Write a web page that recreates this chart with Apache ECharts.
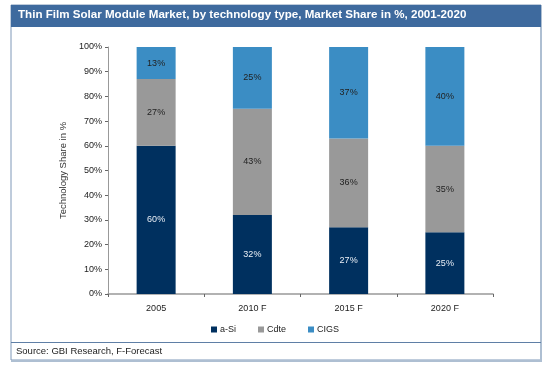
<!DOCTYPE html>
<html><head><meta charset="utf-8">
<script src="https://cdn.jsdelivr.net/npm/echarts@6/dist/echarts.min.js"></script>
<style>html,body{margin:0;padding:0;background:#fff}#c{width:550px;height:369px}</style>
</head><body><div id="c"></div>
<script>
const categories = ['2005', '2010 F', '2015 F', '2020 F'];
const aSi = [60, 32, 27, 25];
const cdte = [27, 43, 36, 35];
const cigs = [13, 25, 37, 40];
const yTicks = [0, 10, 20, 30, 40, 50, 60, 70, 80, 90, 100];

const chart = echarts.init(document.getElementById('c'), null, {renderer: 'canvas'});
const font = 'Arial, "Liberation Sans", sans-serif';
function lbl(color) {
  return {show: true, position: 'inside', formatter: p => p.value + '%', color: color, fontSize: 9, fontFamily: font};
}
chart.setOption({
  animation: false,
  backgroundColor: '#fff',
  textStyle: {fontFamily: font},
  graphic: [
    {type: 'rect', shape: {x: 11, y: 5, width: 530, height: 355}, style: {fill: 'none', stroke: '#7f98b8', lineWidth: 1}, z: 0},
    {type: 'line', shape: {x1: 541, y1: 5, x2: 541, y2: 361}, style: {stroke: '#aebfd2', lineWidth: 2}},
    {type: 'line', shape: {x1: 11, y1: 361, x2: 542, y2: 361}, style: {stroke: '#aebfd2', lineWidth: 2}},
    {type: 'rect', shape: {x: 11, y: 5, width: 530, height: 22}, style: {fill: '#3e6a9e'}},
    {type: 'line', shape: {x1: 11, y1: 342.5, x2: 541, y2: 342.5}, style: {stroke: '#5f7fa6', lineWidth: 1}},
    {type: 'text', left: 18, top: 9, style: {text: 'Thin Film Solar Module Market, by technology type, Market Share in %, 2001-2020', fill: '#fff', font: 'bold 11.6px ' + font}},
    {type: 'text', left: 16, top: 346, style: {text: 'Source: GBI Research, F-Forecast', fill: '#222', font: '9.5px ' + font}}
  ],
  grid: {left: 108, right: 57, top: 47, bottom: 75},
  legend: {
    data: ['a-Si', 'Cdte', 'CIGS'], top: 320, left: 'center', itemWidth: 6, itemHeight: 6, itemGap: 22,
    icon: 'rect', textStyle: {fontSize: 9, color: '#222', padding: [0, 0, 0, -2]}
  },
  xAxis: {
    type: 'category', data: categories,
    axisLine: {lineStyle: {color: '#999', width: 1.5}},
    axisTick: {show: true, alignWithLabel: false, length: 3, lineStyle: {color: '#666'}},
    axisLabel: {color: '#222', fontSize: 9, margin: 10}
  },
  yAxis: {
    type: 'value', min: 0, max: 100, interval: 10,
    name: 'Technology Share in %', nameLocation: 'middle', nameGap: 40,
    nameTextStyle: {fontSize: 9.5, color: '#333'},
    axisLine: {show: true, lineStyle: {color: '#999'}},
    axisTick: {show: true, length: 3, lineStyle: {color: '#666'}},
    splitLine: {show: false},
    axisLabel: {color: '#222', fontSize: 9, margin: 6, formatter: v => yTicks.includes(v) ? v + '%' : ''}
  },
  series: [
    {name: 'a-Si', type: 'bar', stack: 't', data: aSi, barWidth: 39, itemStyle: {color: '#00305f'}, label: lbl('#e8eef5')},
    {name: 'Cdte', type: 'bar', stack: 't', data: cdte, barWidth: 39, itemStyle: {color: '#999999'}, label: lbl('#222')},
    {name: 'CIGS', type: 'bar', stack: 't', data: cigs, barWidth: 39, itemStyle: {color: '#3b8dc4'}, label: lbl('#222')}
  ]
});
</script></body></html>
